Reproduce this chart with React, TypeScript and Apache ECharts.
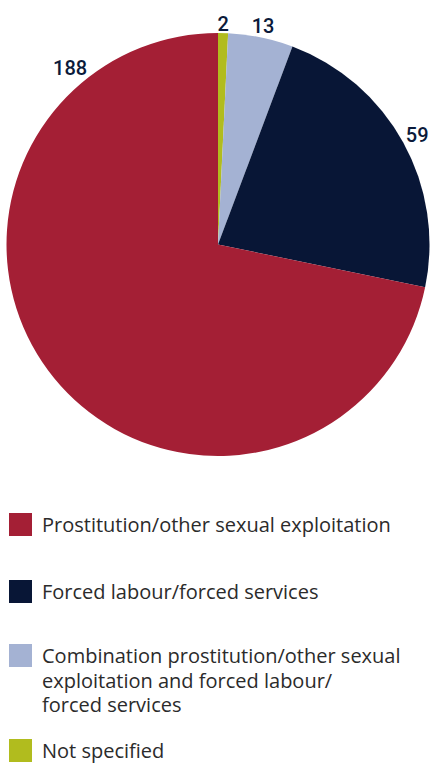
import React, { useEffect, useRef } from "react";
import * as echarts from "echarts";

const categories = [
  "Not specified",
  "Combination prostitution/other sexual exploitation and forced labour/forced services",
  "Forced labour/forced services",
  "Prostitution/other sexual exploitation",
];
const values = [2, 13, 59, 188];
const colors = ["#b1bc1e", "#a4b2d3", "#081636", "#a41f35"];

// legend order and wrapped legend texts
const legendOrder = [3, 2, 1, 0];
const legendTexts = [
  "Prostitution/other sexual exploitation",
  "Forced labour/forced services",
  "Combination prostitution/other sexual\nexploitation and forced labour/\nforced services",
  "Not specified",
];
const legendTops = [513, 580, 644, 739];

const CX = 218;
const CY = 244.5;
const R = 211.5;
// the largest slice's label sits in the upper-left part of the slice
const labelAngleOverride: Record<number, number> = { 3: 320 };

export default function App() {
  const ref = useRef<HTMLDivElement>(null);
  useEffect(() => {
    if (!ref.current) return;
    const chart = echarts.init(ref.current, undefined, { renderer: "svg" });
    const total = values.reduce((a, b) => a + b, 0);
    const starts: number[] = [];
    let acc = 0;
    values.forEach((v) => {
      starts.push(acc);
      acc += v;
    });

    const graphic: any[] = [];
    legendOrder.forEach((idx, k) => {
      const top = legendTops[k];
      const multi = legendTexts[k].includes("\n");
      graphic.push({
        type: "rect",
        left: 9,
        top,
        shape: { width: 23, height: 23 },
        style: { fill: colors[idx] },
      });
      graphic.push({
        type: "text",
        x: 42,
        y: multi ? top + 11.5 - 12.25 : top + 11.5,
        style: {
          text: legendTexts[k],
          font: '20px "Open Sans", sans-serif',
          fill: "#2b2b2b",
          lineHeight: multi ? 24.5 : 20,
          verticalAlign: multi ? "top" : "middle",
          align: "left",
        },
      });
    });

    chart.setOption({
      animation: false,
      backgroundColor: "#ffffff",
      series: [
        {
          type: "pie",
          center: [CX, CY],
          radius: [0, R],
          startAngle: 90,
          clockwise: true,
          avoidLabelOverlap: false,
          itemStyle: { borderWidth: 0 },
          label: {
            show: true,
            position: "outside",
            formatter: "{c}",
            color: "#0b1a3a",
            fontFamily: "Roboto",
            fontWeight: 500,
            fontSize: 20,
          },
          labelLine: { show: false, length: 5, length2: 0 },
          emphasis: { disabled: true },
          labelLayout: (p: any) => {
            const i = p.dataIndex;
            const mid = ((starts[i] + values[i] / 2) / total) * 360;
            const ang = labelAngleOverride[i] ?? mid;
            const rad = (ang * Math.PI) / 180;
            const s = Math.sin(rad);
            const c = Math.cos(rad);
            const hw = (p.labelRect?.width ?? 20) / 2;
            const r = R + 3 + Math.abs(s) * hw + Math.abs(c) * 6;
            return {
              x: CX + r * s,
              y: CY - r * c,
              align: "center",
              verticalAlign: "middle",
            };
          },
          data: categories.map((name, i) => ({
            name,
            value: values[i],
            itemStyle: { color: colors[i] },
          })),
        },
      ],
      graphic,
    });
    return () => chart.dispose();
  }, []);
  return (
    <div
      ref={ref}
      style={{ position: "fixed", left: 0, top: 0, width: 432, height: 765 }}
    />
  );
}
